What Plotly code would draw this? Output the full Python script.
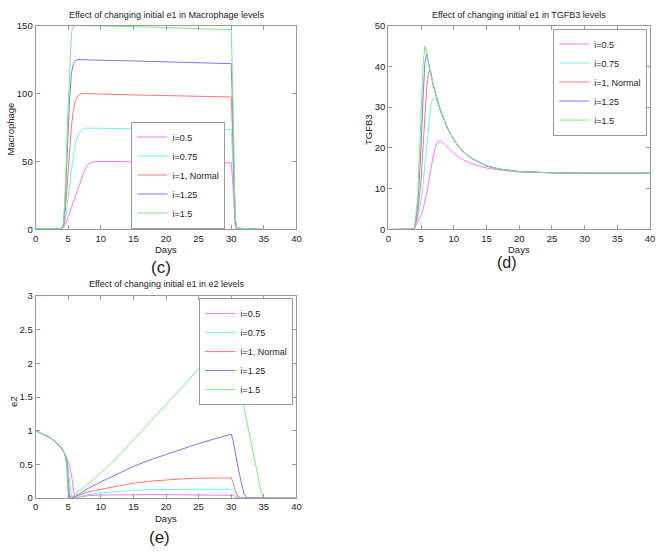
import plotly.graph_objects as go

# ---------------- data ----------------
series_names = ["i=0.5", "i=0.75", "i=1, Normal", "i=1.25", "i=1.5"]
series_colors = ["#ff74ff", "#72f0f0", "#ff7676", "#7878ff", "#78ec78"]

# Macrophage
t_mac = [0, 2, 4, 4.3, 4.6, 4.9, 5.2, 5.5, 5.8, 6.1, 6.5, 7, 7.5, 8, 8.5, 9, 10,
         15, 20, 25, 30, 30.2, 30.4, 30.6, 30.8, 35]
mac_05 = [0.8, 0.6, 0.5, 1.5, 4, 8, 12, 16, 20, 24, 29.5, 37, 43.5, 47.5, 49.3, 49.8, 50,
          49.8, 49.5, 49.2, 49, 37, 15, 3, 0.4, 0]
mac_075 = [0.8, 0.6, 0.5, 2, 9, 20, 32, 44, 55, 63, 69.5, 73.2, 74.4, 74.6, 74.6, 74.5, 74.4,
           74.1, 73.9, 73.7, 73.5, 55, 22, 4, 0.5, 0]
mac_1 = [0.8, 0.6, 0.5, 3, 16, 36, 58, 76, 88, 95, 98.5, 99.8, 100, 99.9, 99.8, 99.7, 99.5,
         99, 98.5, 98, 97.5, 73, 30, 6, 0.8, 0]
mac_125 = [0.8, 0.6, 0.5, 4, 28, 62, 95, 115, 122, 124.3, 125, 125, 125, 124.9, 124.8, 124.7, 124.5,
           124, 123.3, 122.7, 122, 92, 38, 8, 1, 0]
mac_15 = [0.8, 0.6, 0.5, 5, 35, 80, 120, 145, 149.5, 150, 150, 150, 150, 150, 149.9, 149.8, 149.7,
          149.3, 148.7, 148, 147, 110, 45, 10, 1, 0]

# TGFB3
t_tg = [0, 4, 4.5, 5, 5.3, 5.6, 5.9, 6.2, 6.5, 6.8, 7.1, 7.5, 8, 8.5, 9, 10, 11, 12, 13,
        15, 17, 20, 25, 30, 40]
tg_05 = [0, 0.1, 2, 3.5, 5, 7, 9, 12, 15, 17.5, 19.8, 21.5, 21.8, 21, 20.2, 18.7, 17.5, 16.6, 16,
         15.1, 14.6, 14.1, 13.9, 13.8, 13.8]
tg_075 = [0, 0.1, 3, 7, 11, 16, 22, 27, 30.5, 32, 32.3, 31.2, 29, 27, 25, 22, 19.8, 18.3, 17.2,
          15.6, 14.8, 14.2, 13.9, 13.8, 13.8]
tg_1 = [0, 0.1, 4, 12, 20, 29, 35.5, 38.8, 38.5, 36, 34, 31.5, 29, 27, 25, 22, 19.8, 18.3, 17.2,
        15.6, 14.8, 14.2, 13.9, 13.8, 13.8]
tg_125 = [0, 0.1, 6, 20, 32, 41, 43, 40.5, 38, 35.8, 34, 31.5, 29, 27, 25, 22, 19.8, 18.3, 17.2,
          15.6, 14.8, 14.2, 13.9, 13.8, 13.8]
tg_15 = [0, 0.1, 8, 27, 40, 45, 43, 40, 38, 35.8, 34, 31.5, 29, 27, 25, 22, 19.8, 18.3, 17.2,
         15.6, 14.8, 14.2, 13.9, 13.8, 13.8]

# e2
t_e2 = [0, 1, 2, 3, 4, 4.5, 4.8, 5.0, 5.2, 5.5, 5.8, 6.0, 6.5, 7, 8, 10, 12.5, 15, 17.5, 20,
        22.5, 25, 27.5, 30, 30.3, 30.6, 31, 31.5, 32, 32.5, 33, 34, 34.6, 35, 40]
e2_05 = [1, 0.96, 0.91, 0.84, 0.74, 0.65, 0.6, 0.55, 0.48, 0.35, 0.12, 0.02, 0.01, 0.02, 0.035, 0.045,
         0.05, 0.05, 0.05, 0.05, 0.05, 0.05, 0.05, 0.05, 0.04, 0.02, 0, 0, 0, 0, 0, 0, 0, 0, 0]
e2_075 = [1, 0.96, 0.91, 0.84, 0.74, 0.65, 0.58, 0.45, 0.25, 0.02, 0, 0.005, 0.02, 0.03, 0.05, 0.075,
          0.1, 0.115, 0.125, 0.13, 0.13, 0.13, 0.13, 0.13, 0.1, 0.05, 0.01, 0, 0, 0, 0, 0, 0, 0, 0]
e2_1 = [1, 0.96, 0.91, 0.84, 0.74, 0.65, 0.55, 0.3, 0.05, 0, 0.01, 0.02, 0.04, 0.06, 0.09, 0.13,
        0.18, 0.22, 0.25, 0.27, 0.285, 0.295, 0.3, 0.3, 0.22, 0.12, 0.03, 0, 0, 0, 0, 0, 0, 0, 0]
e2_125 = [1, 0.96, 0.91, 0.84, 0.74, 0.65, 0.5, 0.15, 0.01, 0, 0.01, 0.02, 0.05, 0.08, 0.14, 0.24,
          0.36, 0.47, 0.565, 0.65, 0.73, 0.81, 0.88, 0.95, 0.85, 0.68, 0.48, 0.25, 0.05, 0, 0, 0, 0, 0, 0]
e2_15 = [1, 0.96, 0.91, 0.84, 0.74, 0.65, 0.45, 0.02, 0, 0.01, 0.03, 0.05, 0.09, 0.13, 0.2, 0.37,
         0.6, 0.86, 1.12, 1.39, 1.65, 1.92, 2.18, 2.45, 2.1, 1.95, 1.8, 1.57, 1.33, 1.1, 0.85, 0.38,
         0.08, 0, 0]

x_ticks = [0, 5, 10, 15, 20, 25, 30, 35, 40]

# ---------------- figure ----------------
W, H = 664, 555
FONT = "Liberation Sans, Arial, Helvetica, sans-serif"


def xd(a, b):
    return [a / W, b / W]


def yd(top, bottom):
    return [1 - bottom / H, 1 - top / H]


fig = go.Figure()

panels = [
    ("x", "y", "legend", t_mac, [mac_05, mac_075, mac_1, mac_125, mac_15]),
    ("x2", "y2", "legend2", t_tg, [tg_05, tg_075, tg_1, tg_125, tg_15]),
    ("x3", "y3", "legend3", t_e2, [e2_05, e2_075, e2_1, e2_125, e2_15]),
]
for xa, ya, lg, tt, ys in panels:
    for name, col, yy in zip(series_names, series_colors, ys):
        fig.add_trace(go.Scatter(x=tt, y=yy, mode="lines", name=name, xaxis=xa, yaxis=ya,
                                 legend=lg, line=dict(color=col, width=1)))

axis_style = dict(showline=True, linecolor="#9a9a9a", linewidth=1, mirror="ticks",
                  ticks="inside", ticklen=4, tickcolor="#9a9a9a", showgrid=False,
                  zeroline=False, tickfont=dict(family=FONT, size=9.5, color="#222"))

fig.update_layout(
    width=W, height=H, margin=dict(l=0, r=0, t=0, b=0),
    paper_bgcolor="white", plot_bgcolor="white",
    font=dict(family=FONT, color="#222"),
    xaxis=dict(domain=xd(33, 297), range=[0, 40], tickvals=x_ticks, anchor="y", **axis_style),
    yaxis=dict(domain=yd(20, 228), range=[0, 150], tickvals=[0, 50, 100, 150], anchor="x", **axis_style),
    xaxis2=dict(domain=xd(390, 655), range=[0, 40], tickvals=x_ticks, anchor="y2", **axis_style),
    yaxis2=dict(domain=yd(20, 228), range=[0, 50], tickvals=[0, 10, 20, 30, 40, 50], anchor="x2", **axis_style),
    xaxis3=dict(domain=xd(33, 297), range=[0, 40], tickvals=x_ticks, anchor="y3", **axis_style),
    yaxis3=dict(domain=yd(296, 502), range=[0, 3], tickvals=[0, 0.5, 1, 1.5, 2, 2.5, 3],
                ticktext=["0", "0.5", "1", "1.5", "2", "2.5", "3"], anchor="x3", **axis_style),
)

leg_common = dict(bgcolor="white", bordercolor="#9a9a9a", borderwidth=1,
                  font=dict(family=FONT, size=9, color="#222"), itemwidth=30,
                  tracegroupgap=0)
fig.update_layout(
    legend=dict(x=130 / W, xanchor="left", y=1 - 227 / H, yanchor="bottom", **leg_common),
    legend2=dict(x=652 / W, xanchor="right", y=1 - 23 / H, yanchor="top", **leg_common),
    legend3=dict(x=294 / W, xanchor="right", y=1 - 298 / H, yanchor="top", **leg_common),
)


def txt(s, x, y, size, angle=0):
    fig.add_annotation(text=s, x=x / W, y=1 - y / H, xref="paper", yref="paper",
                       xanchor="center", yanchor="middle", showarrow=False,
                       textangle=angle, font=dict(family=FONT, size=size, color="#222"))


txt("Effect of changing initial e1 in Macrophage levels", 165, 9, 9)
txt("Days", 165, 248, 9.5)
txt("Macrophage", 8, 125, 9.5, -90)
txt("(c)", 160, 267, 17)

txt("Effect of changing initial e1 in TGFB3 levels", 522, 9, 9)
txt("Days", 522, 248, 9.5)
txt("TGFB3", 370, 126, 9.5, -90)
txt("(d)", 510, 262, 16)

txt("Effect of changing initial e1 in e2 levels", 165, 284, 9)
txt("Days", 165, 523, 9.5)
txt("e2", 10, 403, 9.5, -90)
txt("(e)", 158, 542, 17)

fig.write_html("out.html", config={"displayModeBar": False},
               post_script="document.body.style.margin='0';")
